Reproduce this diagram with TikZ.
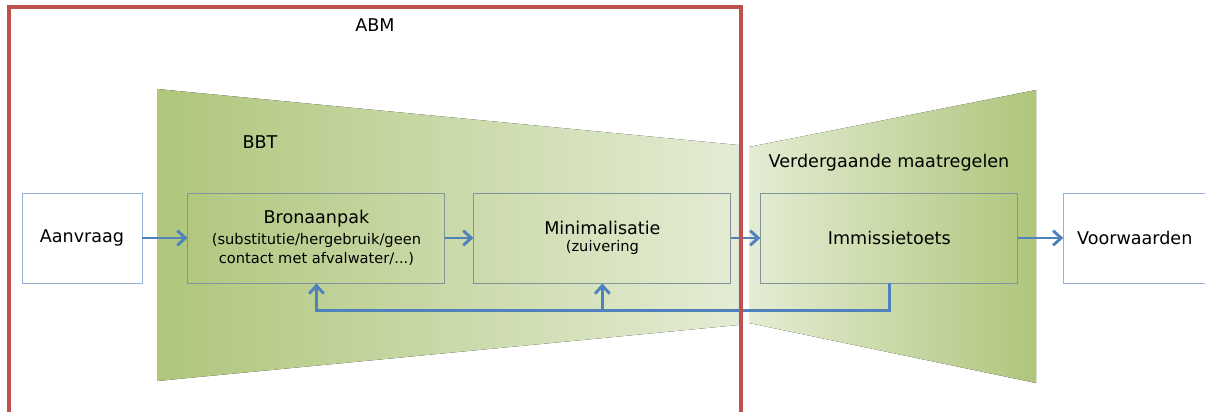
\documentclass[tikz,border=0pt]{standalone}
\usepackage{fontspec}
\setmainfont{DejaVu Sans}
\usetikzlibrary{arrows.meta, positioning}
\definecolor{abmred}{RGB}{192,80,77}
\definecolor{flowblue}{RGB}{79,129,189}
\definecolor{boxblue}{RGB}{149,179,215}
\definecolor{boxgray}{RGB}{128,148,156}
\definecolor{bbtdark}{RGB}{175,198,124}
\definecolor{bbtlight}{RGB}{228,236,212}
\newcommand{\boxfont}{\fontsize{15}{19}\selectfont}
\newcommand{\notefont}{\fontsize{12.5}{17}\selectfont}

\begin{document}
\begin{tikzpicture}[
    node distance=1.35cm,
    plain/.style={rectangle, draw=boxblue, fill=white, line width=0.8pt, minimum width=3.6cm, minimum height=2.7cm, font=\boxfont, align=center},
    stage/.style={rectangle, draw=boxgray, line width=0.8pt, minimum width=7.71cm, minimum height=2.7cm, font=\boxfont, align=center},
    zone/.style={font=\boxfont},
    flow/.style={draw=flowblue, line width=2.5pt, -{Straight Barb[length=2.4mm, width=4.4mm]}},
    abm/.style={draw=abmred, line width=3pt}
]

\useasboundingbox (0,0) rectangle (36.15,-12.36);

% Green funnels
\fill[left color=bbtdark, right color=bbtlight] (4.71,-2.67) -- (22.14,-4.35) -- (22.14,-9.75) -- (4.71,-11.43) -- cycle;
\fill[left color=bbtlight, right color=bbtdark] (22.47,-4.41) -- (31.08,-2.7) -- (31.08,-11.49) -- (22.47,-9.69) -- cycle;

% Zone labels
\node[zone] (abmlabel) at (11.25,-0.75) {ABM};
\node[zone] (bbtlabel) at (7.8,-4.26) {BBT};
\node[zone] (vmlabel) at (26.67,-4.89) {Verdergaande maatregelen};

% Steps
\node[plain] (aanvraag) at (2.46,-7.14) {Aanvraag};
\node[stage, right=1.35cm of aanvraag] (bron) {Bronaanpak\\[-1pt]{\notefont (substitutie/hergebruik/geen}\\[-3pt]{\notefont contact met afvalwater/...)}};
\node[stage, right=0.84cm of bron] (minim) {Minimalisatie\\[-4pt]{\notefont (zuivering}};
\node[stage, right=0.87cm of minim] (immis) {Immissietoets};
\node[plain, right=1.35cm of immis, minimum width=4.26cm] (voorw) {Voorwaarden};

% Arrows
\draw[flow] (aanvraag) -- (bron);
\draw[flow] (bron) -- (minim);
\draw[flow] (minim) -- (immis);
\draw[flow] (immis) -- (voorw);

% Feedback
\coordinate (fbturn) at ([yshift=-0.81cm]immis.south);
\draw[flow] (immis.south) -- (fbturn) -| (bron.south);
\draw[flow] (fbturn -| minim.south) -- (minim.south);

% ABM frame
\draw[abm] (0.27,-12.6) |- (22.23,-0.21) -- (22.23,-12.6);

\end{tikzpicture}
\end{document}
